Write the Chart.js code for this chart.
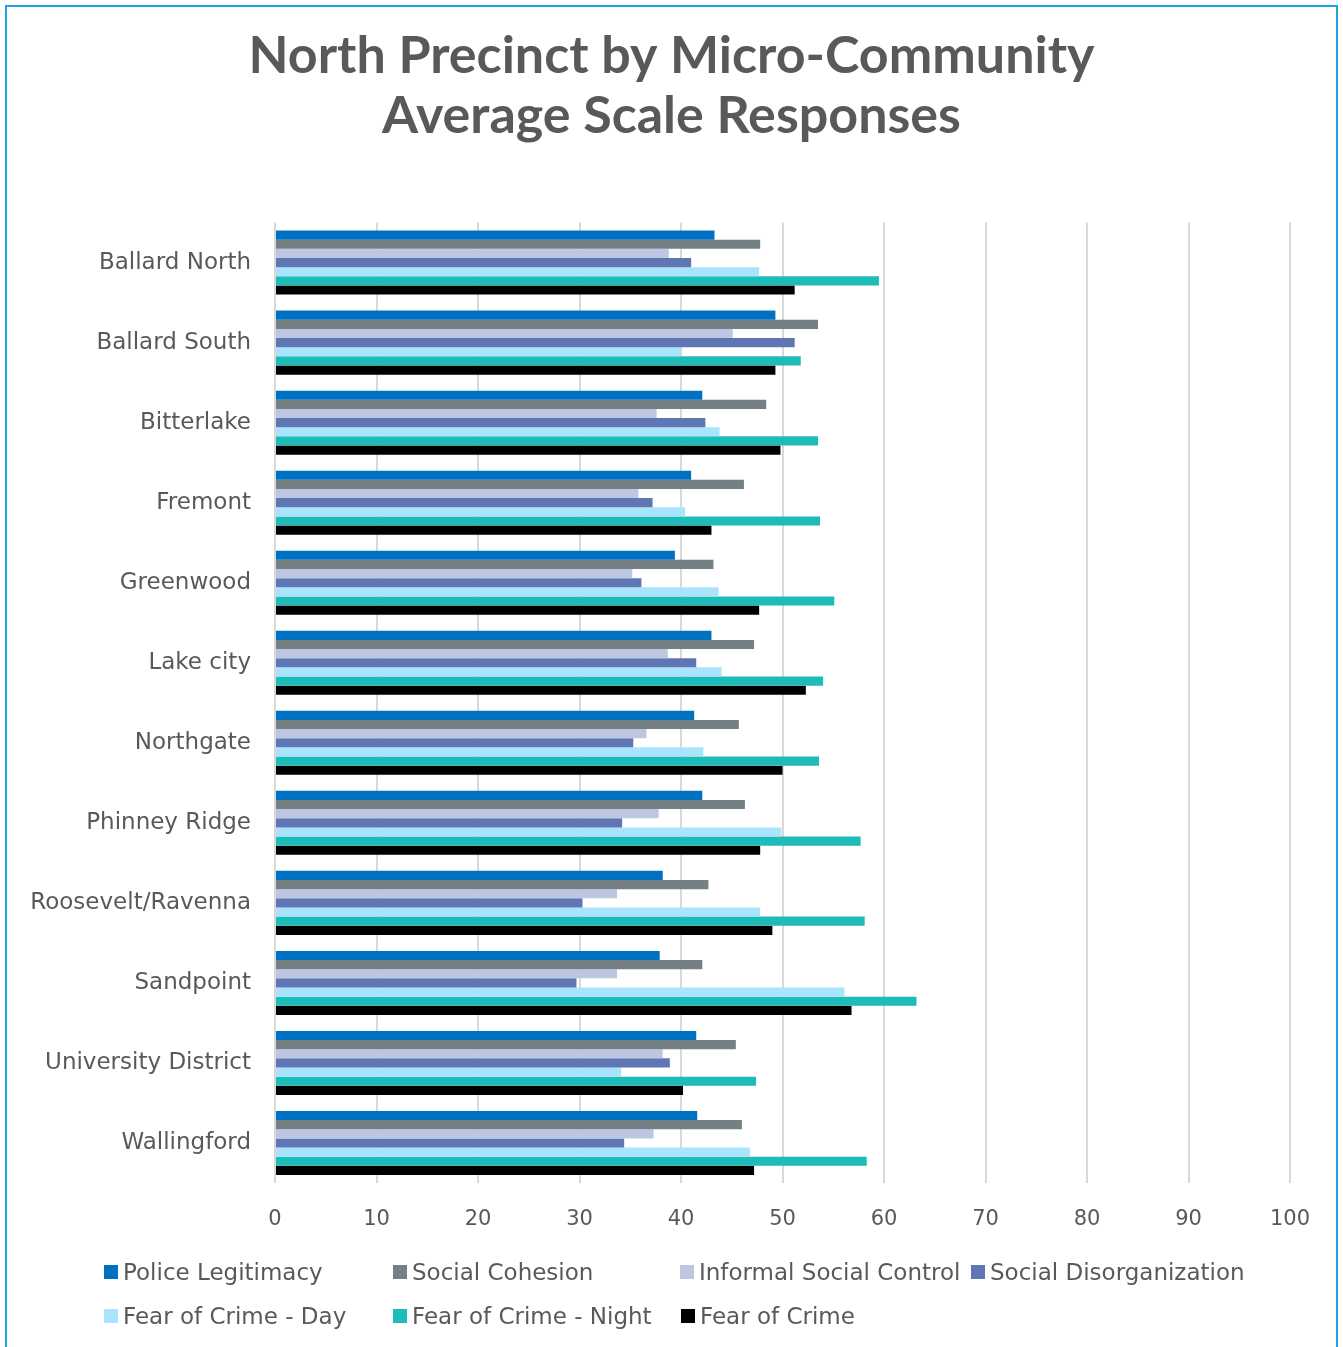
<!DOCTYPE html>
<html>
<head>
<meta charset="utf-8">
<script src="https://cdn.jsdelivr.net/npm/chart.js@4.4.1/dist/chart.umd.min.js"></script>
<style>
  html, body { margin: 0; padding: 0; background: #fff; }
  #wrap { position: relative; width: 1343px; height: 1347px; overflow: hidden; }
  #frame { position: absolute; left: 5px; top: 5px; width: 1333px; height: 1345px; border: 2px solid #1DA6E3; box-sizing: border-box; pointer-events: none; }
  canvas { position: absolute; left: 0; top: 0; }
  #legend { position: absolute; left: 0; top: 0; width: 1343px; height: 1347px; pointer-events: none; font-family: "DejaVu Sans", sans-serif; font-size: 23px; color: #595959; }
  .item { position: absolute; white-space: nowrap; line-height: 28px; }
  .item .box { position: absolute; left: 0; top: 7px; width: 14px; height: 14px; }
  .item .txt { position: absolute; left: 19px; top: 0; }
</style>
</head>
<body>
<div id="wrap">
  <canvas id="c" width="1343" height="1347"></canvas>
  <div id="legend"></div>
  <div id="frame"></div>
</div>
<script>
const categories = ["Ballard North","Ballard South","Bitterlake","Fremont","Greenwood","Lake city","Northgate","Phinney Ridge","Roosevelt/Ravenna","Sandpoint","University District","Wallingford"];
const xTicks = [0,10,20,30,40,50,60,70,80,90,100];

const policeLegitimacy      = [43.3,49.3,42.1,41.0,39.4,43.0,41.3,42.1,38.2,37.9,41.5,41.6];
const socialCohesion        = [47.8,53.5,48.4,46.2,43.2,47.2,45.7,46.3,42.7,42.1,45.4,46.0];
const informalSocialControl = [38.8,45.1,37.6,35.8,35.2,38.7,36.6,37.8,33.7,33.7,38.2,37.3];
const socialDisorganization = [41.0,51.2,42.4,37.2,36.1,41.5,35.3,34.2,30.3,29.7,38.9,34.4];
const fearOfCrimeDay        = [47.7,40.0,43.8,40.4,43.7,44.0,42.2,49.9,47.8,56.1,34.1,46.8];
const fearOfCrimeNight      = [59.5,51.8,53.5,53.7,55.1,54.0,53.6,57.7,58.1,63.2,47.4,58.3];
const fearOfCrime           = [51.2,49.3,49.8,43.0,47.7,52.3,50.0,47.8,49.0,56.8,40.2,47.2];

const seriesNames = ["Police Legitimacy","Social Cohesion","Informal Social Control","Social Disorganization","Fear of Crime - Day","Fear of Crime - Night","Fear of Crime"];
const seriesValues = [policeLegitimacy, socialCohesion, informalSocialControl, socialDisorganization, fearOfCrimeDay, fearOfCrimeNight, fearOfCrime];
const seriesColors = ["#0070C0","#758085","#BDC7E2","#6076B4","#A9E3FC","#1EBCB8","#000000"];

const textColor = "#595959";

const datasets = seriesNames.map((name, i) => ({
  label: name,
  data: seriesValues[i],
  backgroundColor: seriesColors[i],
  borderWidth: 0,
  categoryPercentage: 0.8,
  barPercentage: 1.0
}));

new Chart(document.getElementById('c'), {
  type: 'bar',
  data: { labels: categories, datasets },
  options: {
    indexAxis: 'y',
    responsive: false,
    animation: false,
    devicePixelRatio: 1,
    layout: { padding: { left: 0, right: 0, top: 0, bottom: 114 } },
    plugins: {
      legend: { display: false },
      tooltip: { enabled: false },
      title: {
        display: true,
        text: ["North Precinct by Micro-Community", "Average Scale Responses"],
        color: textColor,
        font: { family: "Lato", size: 52, weight: 'bold', lineHeight: 1.14 },
        padding: { top: 27, bottom: 77 }
      }
    },
    scales: {
      x: {
        min: 0, max: 100,
        afterBuildTicks: (s) => { s.ticks = xTicks.map(v => ({ value: v })); },
        afterFit: (s) => { s.height = 50; },
        grid: { color: "#D9D9D9", lineWidth: 2, drawTicks: false },
        border: { display: false },
        ticks: { color: textColor, padding: 24, font: { family: "DejaVu Sans", size: 21 } }
      },
      y: {
        afterFit: (s) => { s.width = 275; },
        grid: { display: false, drawTicks: false },
        border: { display: false },
        ticks: { color: textColor, padding: 24, font: { family: "DejaVu Sans", size: 23 } }
      },
      yRight: {
        position: 'right',
        afterFit: (s) => { s.width = 53; },
        grid: { display: false, drawTicks: false },
        border: { display: false },
        ticks: { display: false }
      }
    }
  }
});

// legend (HTML, fixed columns as in reference)
const legendPos = [[104,1272],[393,1272],[680,1272],[971,1272],[104,1316],[393,1316],[681,1316]];
const lg = document.getElementById('legend');
seriesNames.forEach((name, i) => {
  const d = document.createElement('div');
  d.className = 'item';
  d.style.left = legendPos[i][0] + 'px';
  d.style.top = (legendPos[i][1] - 14) + 'px';
  d.innerHTML = '<span class="box" style="background:' + seriesColors[i] + '"></span><span class="txt">' + name + '</span>';
  lg.appendChild(d);
});
</script>
</body>
</html>
